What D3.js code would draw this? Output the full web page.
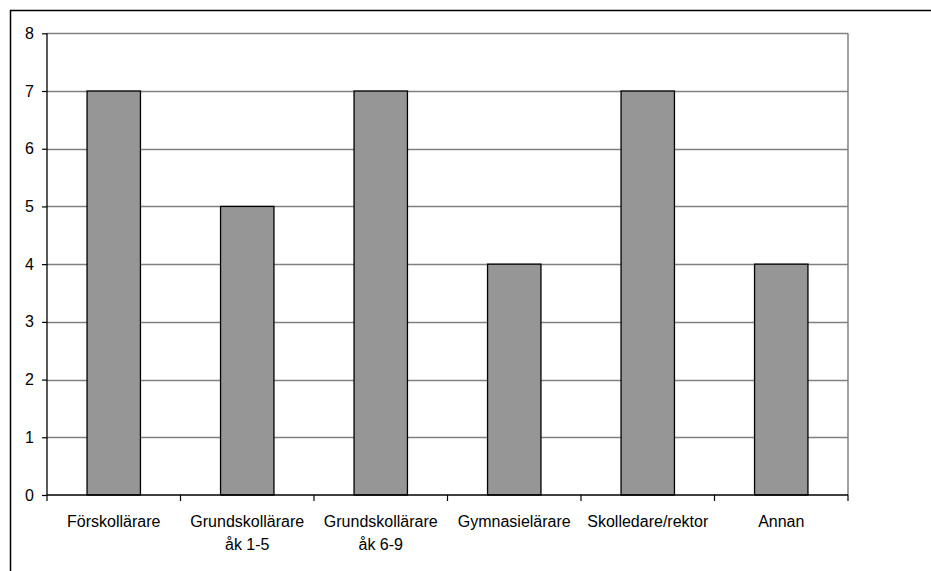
<!DOCTYPE html>
<html>
<head>
<meta charset="utf-8">
<script src="https://cdn.jsdelivr.net/npm/d3@7"></script>
<style>
  html, body { margin: 0; padding: 0; background: #fff; }
  svg { display: block; }
  text { font-family: Arial, "Liberation Sans", sans-serif; }
</style>
</head>
<body>
<svg id="chart" width="931" height="571"></svg>
<script>
const categories = [
  ["Förskollärare"],
  ["Grundskollärare", "åk 1-5"],
  ["Grundskollärare", "åk 6-9"],
  ["Gymnasielärare"],
  ["Skolledare/rektor"],
  ["Annan"]
];
const values = [7, 5, 7, 4, 7, 4];
const yTicks = [0, 1, 2, 3, 4, 5, 6, 7, 8];

const svg = d3.select("#chart");
const plotLeft = 47, plotRight = 848, plotTop = 33.3, plotBottom = 495;

// outer border (only left/top visible)
svg.append("rect")
  .attr("x", 10.5).attr("y", 10.5)
  .attr("width", 960).attr("height", 600)
  .attr("fill", "none").attr("stroke", "#000").attr("stroke-width", 1.5);

const keys = categories.map((c, i) => i);
const x = d3.scaleBand().domain(keys).range([plotLeft, plotRight]).paddingInner(0.6).paddingOuter(0.3);
const y = d3.scaleLinear().domain([0, 8]).range([plotBottom, plotTop]);

// gridlines
svg.append("g").selectAll("line").data(yTicks.filter(t => t > 0)).join("line")
  .attr("x1", plotLeft).attr("x2", plotRight)
  .attr("y1", d => Math.round(y(d)) + 0.5).attr("y2", d => Math.round(y(d)) + 0.5)
  .attr("stroke", "#808080").attr("stroke-width", 1.5);

// right plot border
svg.append("line")
  .attr("x1", plotRight).attr("x2", plotRight).attr("y1", y(8)).attr("y2", plotBottom)
  .attr("stroke", "#808080").attr("stroke-width", 1.5);

// bars
svg.append("g").selectAll("rect").data(values).join("rect")
  .attr("x", (d, i) => x(i))
  .attr("y", d => y(d))
  .attr("width", x.bandwidth())
  .attr("height", d => plotBottom - y(d))
  .attr("fill", "#969696")
  .attr("stroke", "#000")
  .attr("stroke-width", 1.3);

// y axis
const yAxis = d3.axisLeft(y).tickValues(yTicks).tickSize(5).tickPadding(8).tickFormat(d3.format("d"));
const gy = svg.append("g").attr("transform", `translate(${plotLeft},0)`).call(yAxis);
gy.select(".domain").attr("stroke", "#000").attr("stroke-width", 1.3).attr("d", `M0,${y(8)}V${plotBottom}`);
gy.selectAll(".tick line").attr("stroke", "#000").attr("stroke-width", 1.2);
gy.selectAll(".tick text").attr("font-size", 16).attr("fill", "#000")
  .attr("font-family", "Arial, 'Liberation Sans', sans-serif");

// x axis line and category boundary ticks
svg.append("line").attr("x1", plotLeft).attr("x2", plotRight).attr("y1", plotBottom).attr("y2", plotBottom)
  .attr("stroke", "#000").attr("stroke-width", 1.3);
const boundaries = d3.range(categories.length + 1).map(i => plotLeft + i * (plotRight - plotLeft) / categories.length);
svg.append("g").selectAll("line").data(boundaries).join("line")
  .attr("x1", d => d).attr("x2", d => d).attr("y1", plotBottom).attr("y2", plotBottom + 6)
  .attr("stroke", "#000").attr("stroke-width", 1.2);

// x labels
const lbl = svg.append("g").selectAll("text").data(categories).join("text")
  .attr("text-anchor", "middle")
  .attr("font-size", 16)
  .attr("fill", "#000")
  .attr("transform", (d, i) => `translate(${x(i) + x.bandwidth() / 2},0)`);
lbl.selectAll("tspan").data(d => d).join("tspan")
  .attr("x", 0)
  .attr("y", (d, j) => 527 + j * 22.5)
  .text(d => d);
</script>
</body>
</html>
